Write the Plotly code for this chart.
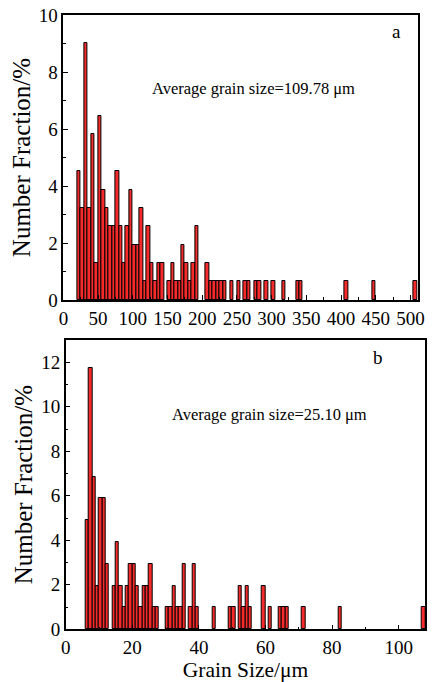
import plotly.graph_objects as go

# ---- Data (bin left edges in µm, number fraction in %) ----
top_bin_start = [20, 25, 30, 35, 40, 45, 50, 55, 60, 65, 70, 75, 80, 85, 90, 95,
                 100, 105, 110, 115, 120, 125, 130, 135, 140, 150, 155, 160, 165,
                 170, 175, 180, 185, 190, 205, 210, 215, 220, 225, 230, 240, 250,
                 260, 265, 275, 280, 290, 300, 315, 335, 340, 405, 445, 505]
top_fraction = [4.52, 3.23, 9.03, 3.23, 5.81, 1.29, 6.45, 3.87, 3.23, 2.58, 2.58,
                4.52, 2.58, 1.29, 2.58, 3.87, 1.94, 1.94, 3.23, 0.65, 2.58, 1.29,
                0.65, 1.29, 1.29, 0.65, 1.29, 0.65, 0.65, 1.94, 1.29, 0.65, 1.29,
                2.58, 1.29, 0.65, 0.65, 0.65, 0.65, 0.65, 0.65, 0.65, 0.65, 0.65,
                0.65, 0.65, 0.65, 0.65, 0.65, 0.65, 0.65, 0.65, 0.65, 0.65]
top_bin_width = 5

bot_bin_start = [6, 7, 8, 9, 10, 11, 12, 14, 15, 16, 17, 18, 19, 20, 21, 22, 23,
                 24, 25, 26, 27, 30, 31, 32, 33, 34, 35, 37, 38, 39, 44, 49, 50,
                 52, 53, 54, 55, 59, 61, 64, 65, 66, 71, 82, 107]
bot_fraction = [4.90, 11.76, 6.86, 1.96, 5.88, 5.88, 2.94, 1.96, 3.92, 1.96, 0.98,
                1.96, 2.94, 2.94, 1.96, 0.98, 1.96, 1.96, 2.94, 0.98, 0.98, 0.98,
                0.98, 1.96, 0.98, 0.98, 2.94, 0.98, 2.94, 0.98, 0.98, 0.98, 0.98,
                1.96, 0.98, 1.96, 0.98, 1.96, 0.98, 0.98, 0.98, 0.98, 0.98, 0.98,
                0.98]
bot_bin_width = 1

top_xticks = [0, 50, 100, 150, 200, 250, 300, 350, 400, 450, 500]
top_yticks = [0, 2, 4, 6, 8, 10]
bot_xticks = [0, 20, 40, 60, 80, 100]
bot_yticks = [0, 2, 4, 6, 8, 10, 12]

W, H = 432, 682
FONT = "Liberation Serif"
BAR_COLOR = "rgb(245,42,42)"
YTITLE_SIZE = 25

fig = go.Figure()
fig.add_trace(go.Bar(x=top_bin_start, y=top_fraction, width=top_bin_width, offset=0,
                     marker=dict(color=BAR_COLOR, line=dict(color="black", width=1)),
                     xaxis="x", yaxis="y", showlegend=False))
fig.add_trace(go.Bar(x=bot_bin_start, y=bot_fraction, width=bot_bin_width, offset=0,
                     marker=dict(color=BAR_COLOR, line=dict(color="black", width=1)),
                     xaxis="x2", yaxis="y2", showlegend=False))

def px_x(p):
    return p / W

def px_y(p):
    return 1 - p / H

axis_common = dict(showline=True, linecolor="black", linewidth=1.5, mirror=True,
                   ticks="inside", ticklen=5, tickwidth=1.2, tickcolor="black",
                   showgrid=False, zeroline=False, automargin=False,
                   tickfont=dict(family=FONT, size=19, color="black"))

fig.update_layout(
    width=W, height=H,
    margin=dict(l=0, r=0, t=0, b=0, pad=0),
    paper_bgcolor="white", plot_bgcolor="white",
    bargap=0,
    font=dict(family=FONT, color="black"),
    xaxis=dict(domain=[px_x(63.4), px_x(417.7)], range=[0, 510.5], anchor="y",
               tickvals=top_xticks,
               minor=dict(ticks="inside", ticklen=3, tickcolor="black", dtick=25, tick0=0),
               **axis_common),
    yaxis=dict(domain=[px_y(300), px_y(15)], range=[0, 10], anchor="x",
               tickvals=top_yticks,
               minor=dict(ticks="inside", ticklen=3, tickcolor="black", dtick=1, tick0=0),
               title=dict(text="Number Fraction/%", font=dict(family=FONT, size=YTITLE_SIZE), standoff=1),
               **axis_common),
    xaxis2=dict(domain=[px_x(65.7), px_x(425.3)], range=[0, 108], anchor="y2",
                tickvals=bot_xticks,
                minor=dict(ticks="inside", ticklen=3, tickcolor="black", dtick=10, tick0=0),
                title=dict(text="Grain Size/μm", font=dict(family=FONT, size=21.5), standoff=2),
                **axis_common),
    yaxis2=dict(domain=[px_y(629.3), px_y(340)], range=[0, 13], anchor="x2",
                tickvals=bot_yticks,
                minor=dict(ticks="inside", ticklen=3, tickcolor="black", dtick=1, tick0=0),
                title=dict(text="Number Fraction/%", font=dict(family=FONT, size=YTITLE_SIZE), standoff=1),
                **axis_common),
    annotations=[
        dict(text="Average grain size=109.78 μm", xref="paper", yref="paper",
             x=px_x(150), y=px_y(88), xanchor="left", yanchor="middle", showarrow=False,
             font=dict(family=FONT, size=16.5, color="black")),
        dict(text="a", xref="paper", yref="paper", x=px_x(396), y=px_y(32),
             xanchor="center", yanchor="middle", showarrow=False,
             font=dict(family=FONT, size=19, color="black")),
        dict(text="Average grain size=25.10 μm", xref="paper", yref="paper",
             x=px_x(170), y=px_y(414), xanchor="left", yanchor="middle", showarrow=False,
             font=dict(family=FONT, size=16.5, color="black")),
        dict(text="b", xref="paper", yref="paper", x=px_x(378), y=px_y(357),
             xanchor="center", yanchor="middle", showarrow=False,
             font=dict(family=FONT, size=19, color="black")),
    ],
)

fig.write_html("out.html")
